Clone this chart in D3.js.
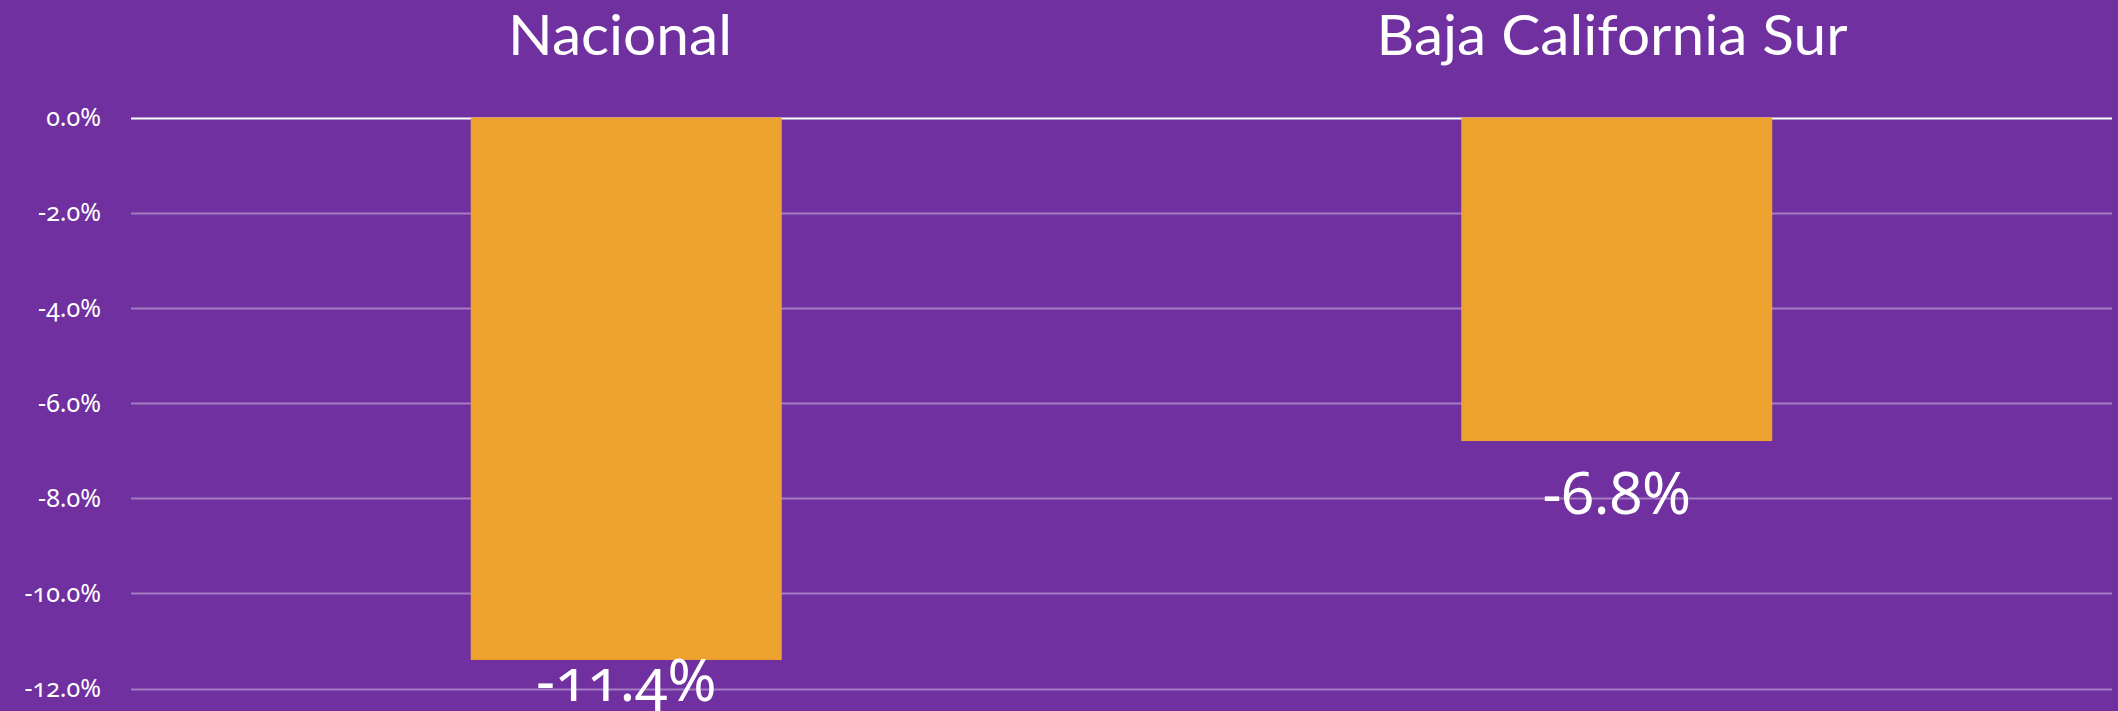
<!DOCTYPE html>
<html><head><meta charset="utf-8">
<script src="https://cdn.jsdelivr.net/npm/d3@7"></script>
<style>
html,body{margin:0;padding:0;background:#7030A0;}
svg{display:block;}
text{font-family:"Noto Sans","Lato",sans-serif;font-variant-numeric:oldstyle-nums;}
</style></head><body>
<svg id="chart" width="2118" height="711"></svg>
<script>
const categories = ["Nacional", "Baja California Sur"];
const values = [-11.4, -6.8];
const tickValues = [0, -2, -4, -6, -8, -10, -12];
const tickLabels = ["0.0%", "-2.0%", "-4.0%", "-6.0%", "-8.0%", "-10.0%", "-12.0%"];

const W = 2118, H = 711;
const svg = d3.select("#chart");
svg.append("rect").attr("width", W).attr("height", H).attr("fill", "#7030A0");

const y = d3.scaleLinear().domain([0, -12]).range([117.5, 688.5]);
const x = d3.scaleBand().domain(categories).range([131, 2112]).paddingInner(0.686).paddingOuter(0.343);

// gridlines
svg.append("g").selectAll("line").data(tickValues).join("line")
  .attr("x1", 131).attr("x2", 2112)
  .attr("y1", d => Math.round(y(d)) + 0.5).attr("y2", d => Math.round(y(d)) + 0.5)
  .attr("stroke", d => d === 0 ? "#ffffff" : "#A47CC4")
  .attr("stroke-width", 2);

// tick labels
svg.append("g").selectAll("text").data(tickValues).join("text")
  .attr("x", 101).attr("y", d => y(d))
  .attr("dy", "0.35em")
  .attr("text-anchor", "end")
  .attr("fill", "#ffffff")
  .attr("font-size", 25)
  .text((d, i) => tickLabels[i]);

// bars
svg.append("g").selectAll("rect").data(values).join("rect")
  .attr("x", (d, i) => x(categories[i]))
  .attr("width", x.bandwidth())
  .attr("y", y(0))
  .attr("height", d => y(d) - y(0))
  .attr("fill", "#EEA22E");

// value labels
svg.append("g").selectAll("text").data(values).join("text")
  .attr("x", (d, i) => x(categories[i]) + x.bandwidth() / 2)
  .attr("y", d => Math.min(y(d) + 73, 701))
  .attr("text-anchor", "middle")
  .attr("fill", "#ffffff")
  .attr("font-size", 59)
  .text(d => d.toFixed(1) + "%");

// titles
const titleX = [620, 1612];
const titleW = [224, 471];
svg.append("g").selectAll("text").data(categories).join("text")
  .attr("x", (d, i) => titleX[i])
  .attr("y", 55)
  .attr("text-anchor", "middle")
  .attr("fill", "#ffffff")
  .attr("font-size", 57)
  .attr("font-weight", 400)
  .attr("textLength", (d, i) => titleW[i])
  .attr("lengthAdjust", "spacingAndGlyphs")
  .style("font-family", "Lato, sans-serif")
  .text(d => d);
</script>
</body></html>
